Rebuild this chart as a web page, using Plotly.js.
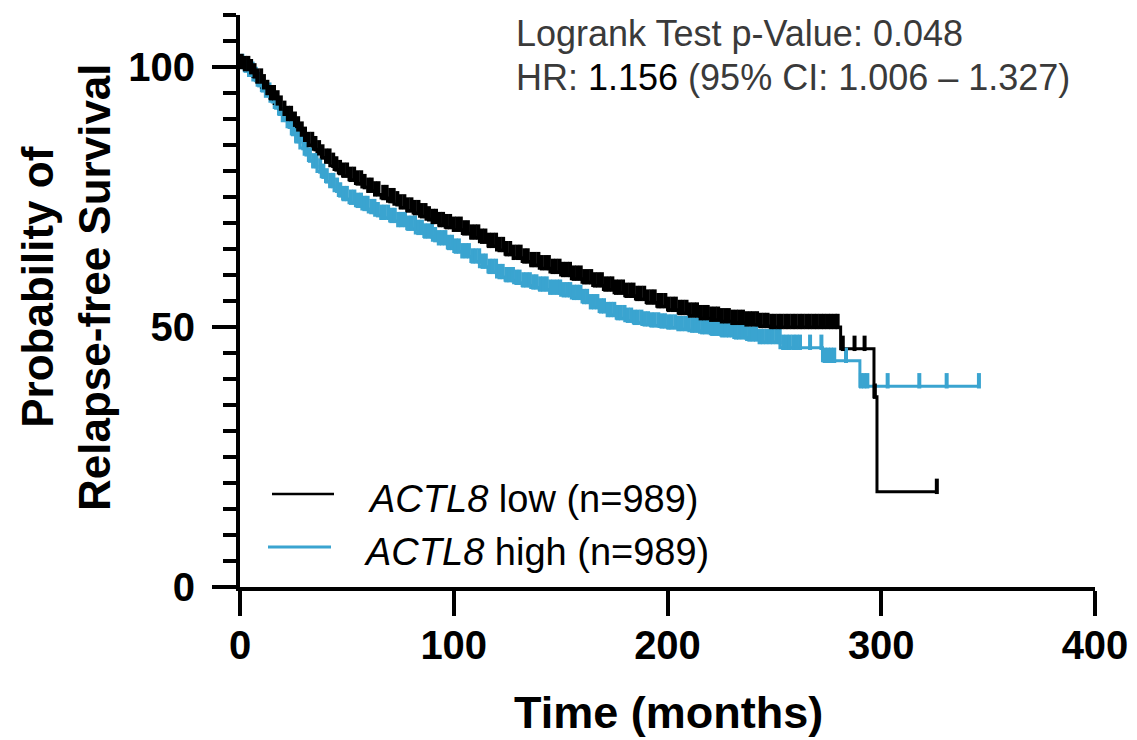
<!DOCTYPE html>
<html>
<head>
<meta charset="utf-8">
<script src="https://cdn.plot.ly/plotly-3.0.1.min.js"></script>
<style>html,body{margin:0;padding:0;background:#fff;}#chart{width:1137px;height:740px;}</style>
</head>
<body>
<div id="chart"></div>
<script>
// ---- Data ----
const groupNames = ["<i>ACTL8</i> low (n=989)", "<i>ACTL8</i> high (n=989)"];

// ACTL8 low: step points (months, % relapse-free)
const lowTime = [0,2,4,6,8,10,12,14,16,18,20,22,24,26,28,30,32,34,36,38,40,42,44,46,48,51,54,57,60,63,66,69,72,75,78,81,84,87,90,93,96,100,104,108,112,116,120,124,128,132,136,140,145,150,155,160,165,170,175,180,185,190,195,200,205,210,215,220,225,230,236,242,248,281,296.6,298,326];
const lowSurv = [100,99.6,99.0,98.2,97.2,96.1,95.0,94.0,93.0,92.0,91.0,90.0,88.9,88.0,87.0,86.0,85.0,84.2,83.4,82.6,81.8,81.0,80.3,79.6,79.1,78.3,77.6,76.9,76.2,75.5,74.8,74.2,73.6,73.0,72.4,71.9,71.3,70.7,70.2,69.6,69.2,68.7,68.0,67.2,66.4,65.6,64.8,64.0,63.3,62.6,61.9,61.3,60.6,60.0,59.3,58.6,58.0,57.2,56.6,56.0,55.4,54.7,54.0,53.3,52.7,52.2,51.7,51.4,51.1,50.8,50.5,50.2,50.0,45.8,36.6,18.3,18.3];
// ACTL8 low: censoring times (months)
const lowCensor = [0.8,2.3,3.9,5.2,6.8,8.1,9.9,11.2,12.8,14.5,15.9,17.6,19.1,20.8,22.4,23.9,25.7,27.2,28.9,30.4,32.1,33.8,35.3,37.0,38.6,40.3,41.9,43.6,45.1,46.8,48.4,50.1,51.7,53.4,55.0,56.7,58.3,60.0,61.6,63.2,64.8,67.0,68.6,70.3,71.9,73.6,75.2,76.9,78.5,80.2,81.8,83.5,85.1,86.8,88.4,90.1,91.7,93.4,95.0,96.7,98.3,100.0,101.6,103.3,104.9,106.6,108.2,109.9,111.5,113.2,114.8,116.5,118.1,119.8,121.4,123.1,124.7,126.4,128.0,129.7,131.3,133.0,134.6,136.3,137.9,139.6,141.2,142.9,144.5,146.2,147.8,149.5,151.1,152.8,154.4,156.1,157.7,159.4,161.0,162.7,164.3,166.0,167.6,169.3,170.9,172.6,174.2,175.9,177.5,179.2,180.8,182.5,184.1,185.8,187.4,189.1,190.7,192.4,194.0,195.7,197.3,199.0,200.6,202.3,203.9,205.6,207.2,208.9,210.5,212.2,213.8,215.5,217.1,218.8,220.4,222.1,223.7,225.4,227.0,228.7,230.3,232.0,233.6,235.3,236.9,238.6,240.2,241.9,243.5,245.2,246.8,248.5,250.1,251.8,253.4,255.1,256.7,258.4,260.0,261.7,263.3,265.0,266.6,268.3,269.9,271.6,273.2,274.9,276.5,278.2,279.6,282,287.5,292.2,297.0,326];

// ACTL8 high: step points
const highTime = [0,2,4,6,8,10,12,14,16,18,20,22,24,26,28,30,32,34,36,38,40,42,44,46,48,51,54,57,60,63,66,70,74,78,82,86,90,93,97,100,104,108,112,116,120,124,128,132,136,140,145,150,155,160,164,168,172,176,180,184,188,192,196,200,205,210,215,220,225,231,237,243,252.6,272.5,290,346];
const highSurv = [100,99.3,98.5,97.5,96.5,95.5,94.5,93.4,92.2,91.0,89.8,88.5,87.1,85.7,84.4,83.2,82.0,80.9,79.9,78.9,78.0,77.1,76.2,75.3,74.6,73.9,73.3,72.7,72.1,71.5,71.0,70.4,69.6,68.9,68.1,67.4,66.7,66.1,65.2,64.5,63.6,62.6,61.6,60.6,59.6,59.0,58.5,58.0,57.6,57.2,56.6,56.1,55.6,54.8,53.8,53.0,52.3,51.7,51.2,50.8,50.5,50.3,50.1,49.9,49.6,49.3,49.0,48.7,48.4,48.0,47.6,47.1,46.0,43.5,38.6,38.6];
// ACTL8 high: censoring times
const highCensor = [1.1,2.7,4.2,5.9,7.4,9.0,10.6,12.1,13.8,15.3,16.9,18.5,20.0,21.7,23.2,24.8,26.4,27.9,29.6,31.1,32.7,34.3,35.8,37.5,39.0,40.6,42.2,43.7,45.4,46.9,48.5,50.0,51.9,53.5,55.0,56.6,58.2,59.7,61.4,62.9,64.5,66.1,67.6,69.3,70.8,72.4,74.0,75.5,77.2,78.7,80.3,81.9,83.4,85.1,86.6,88.2,89.8,91.3,93.0,94.5,96.1,97.7,99.2,100.9,102.4,104.0,105.6,107.1,108.8,110.3,111.9,113.5,115.0,116.7,118.2,119.8,121.4,122.9,124.6,126.1,127.7,129.3,130.8,132.5,134.0,135.6,137.2,138.7,140.4,141.9,143.5,145.1,146.6,148.3,149.8,151.4,153.0,154.5,156.2,157.7,159.3,160.9,162.4,164.1,165.6,167.2,168.8,170.3,172.0,173.5,175.1,176.7,178.2,179.9,181.4,183.0,184.6,186.1,187.8,189.3,190.9,192.5,194.0,195.7,197.2,198.8,200.4,201.9,203.6,205.1,206.7,208.3,209.8,211.5,213.0,214.6,216.2,217.7,219.4,220.9,222.5,224.1,225.6,227.3,228.8,230.4,232.0,233.5,235.2,236.7,238.3,239.9,241.4,243.1,244.6,246.2,247.8,249.3,251.0,252.5,254.1,255.7,257.2,258.9,260.4,262.0,266.7,272.0,273.5,275.0,276.5,278.0,283.5,290.5,292.0,293.5,303.0,317.8,330.6,345.7];

const pValueText = "Logrank Test p-Value: 0.048";
const hrValue = "1.156";
const ciText = "(95% CI: 1.006 \u2013 1.327)";

const xTickVals = [0,100,200,300,400];
const yTickVals = [0,50,100];

// ---- helpers ----
function stepAt(times, surv, t){
  let v = surv[0];
  for (let i = 0; i < times.length; i++){ if (times[i] <= t) v = surv[i]; else break; }
  return v;
}
const BLACK = "#000000", BLUE = "#3aa4d0";

// plot-area geometry (pixels)
const W = 1137, H = 740, ML = 240, MR = 42, MT = 15, MB = 153;
const plotH = H - MT - MB, plotW = W - ML - MR;
const yMax = 110;
const tickShift = 5.5 * yMax / plotH; // censor ticks sit on top of the line
function pxX(x){ return (x - ML) / plotW; }
function pxY(y){ return (H - MB - y) / plotH; }

const traces = [
  {x: highTime, y: highSurv, mode: "lines", line: {shape: "hv", color: BLUE, width: 3}, hoverinfo: "skip"},
  {x: highCensor, y: highCensor.map(t => stepAt(highTime, highSurv, t)), yaxis: "y2", mode: "markers",
   marker: {symbol: "line-ns", size: 11, line: {color: BLUE, width: 4}, color: BLUE}, hoverinfo: "skip"},
  {x: lowTime, y: lowSurv, mode: "lines", line: {shape: "hv", color: BLACK, width: 3}, hoverinfo: "skip"},
  {x: lowCensor, y: lowCensor.map(t => stepAt(lowTime, lowSurv, t)), yaxis: "y2", mode: "markers",
   marker: {symbol: "line-ns", size: 11, line: {color: BLACK, width: 4}, color: BLACK}, hoverinfo: "skip"}
];

const tickFont = {family: "Liberation Sans, Arial, sans-serif", size: 40, color: "#000", weight: "bold"};

const layout = {
  width: W, height: H,
  margin: {l: ML, r: MR, t: MT, b: MB, pad: 0},
  paper_bgcolor: "#fff", plot_bgcolor: "#fff",
  showlegend: false,
  xaxis: {
    range: [0, 400], tickvals: xTickVals, ticktext: xTickVals.map(String),
    ticks: "outside", ticklen: 25, tickwidth: 4, tickcolor: "#000",
    showline: true, linewidth: 4, linecolor: "#000",
    showgrid: false, zeroline: false, automargin: false,
    tickfont: tickFont, ticklabelstandoff: -5, fixedrange: true
  },
  yaxis: {
    range: [0, yMax], tickvals: yTickVals, ticktext: yTickVals.map(String),
    ticks: "outside", ticklen: 24, tickwidth: 4, tickcolor: "#000",
    showline: true, linewidth: 4, linecolor: "#000",
    showgrid: false, zeroline: false, automargin: false,
    tickfont: tickFont, ticklabelstandoff: 9, fixedrange: true,
    minor: {dtick: 5, tick0: 0, ticks: "outside", ticklen: 13, tickwidth: 4, tickcolor: "#000", showgrid: false}
  },
  yaxis2: {range: [-tickShift, yMax - tickShift], overlaying: "y", visible: false, fixedrange: true},
  annotations: [
    {xref: "paper", yref: "paper", x: pxX(668), y: pxY(712), xanchor: "center", yanchor: "middle",
     text: "<b>Time (months)</b>", showarrow: false,
     font: {family: "Liberation Sans, Arial, sans-serif", size: 45, color: "#000"}},
    {xref: "paper", yref: "paper", x: pxX(66), y: pxY(287), xanchor: "center", yanchor: "middle",
     text: "<b>Probability of</b><br><b>Relapse-free Survival</b>", textangle: -90, showarrow: false,
     font: {family: "Liberation Sans, Arial, sans-serif", size: 44, color: "#000"}},
    {xref: "paper", yref: "paper", x: pxX(514), y: pxY(33.5), xanchor: "left", yanchor: "middle",
     text: pValueText, showarrow: false,
     font: {family: "Liberation Sans, Arial, sans-serif", size: 36, color: "#3a3a3a"}},
    {xref: "paper", yref: "paper", x: pxX(514), y: pxY(78), xanchor: "left", yanchor: "middle",
     text: "HR: <span style=\"color:#000\">" + hrValue + "</span> " + ciText, showarrow: false,
     font: {family: "Liberation Sans, Arial, sans-serif", size: 36, color: "#3a3a3a"}},
    {xref: "paper", yref: "paper", x: pxX(366), y: pxY(499), xanchor: "left", yanchor: "middle",
     text: groupNames[0], showarrow: false,
     font: {family: "Liberation Sans, Arial, sans-serif", size: 38, color: "#000"}},
    {xref: "paper", yref: "paper", x: pxX(362), y: pxY(552), xanchor: "left", yanchor: "middle",
     text: groupNames[1], showarrow: false,
     font: {family: "Liberation Sans, Arial, sans-serif", size: 38, color: "#000"}}
  ],
  shapes: [
    {type: "line", xref: "paper", yref: "paper", x0: pxX(272), x1: pxX(334), y0: pxY(494), y1: pxY(494),
     line: {color: BLACK, width: 2.5}},
    {type: "line", xref: "paper", yref: "paper", x0: pxX(268), x1: pxX(331), y0: pxY(547), y1: pxY(547),
     line: {color: BLUE, width: 3}}
  ]
};

Plotly.newPlot("chart", traces, layout, {displayModeBar: false, staticPlot: true});
</script>
</body>
</html>
